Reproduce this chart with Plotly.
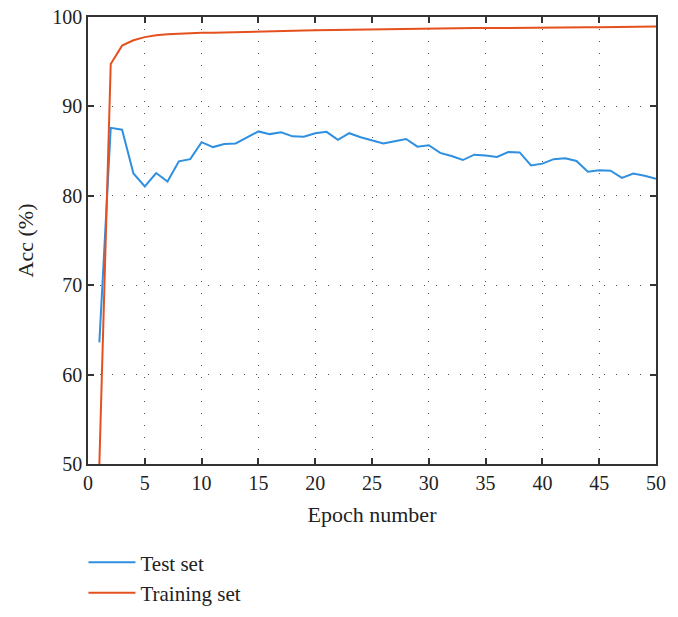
import plotly.graph_objects as go

epochs = list(range(1, 51))
test_acc = [63.6, 87.6, 87.4, 82.5, 81.05, 82.55, 81.6, 83.85, 84.1, 86.0,
            85.45, 85.8, 85.85, 86.55, 87.2, 86.9, 87.1, 86.65, 86.6, 87.0,
            87.15, 86.25, 87.0, 86.55, 86.2, 85.85, 86.1, 86.35, 85.5, 85.65,
            84.8, 84.45, 84.0, 84.6, 84.5, 84.35, 84.9, 84.85, 83.4, 83.6,
            84.1, 84.2, 83.9, 82.7, 82.85, 82.8, 82.0, 82.5, 82.25, 81.9]
train_acc = [50.0, 94.75, 96.8, 97.4, 97.75, 97.96, 98.08, 98.15, 98.2, 98.23,
             98.25, 98.27, 98.29, 98.31, 98.34, 98.38, 98.42, 98.46, 98.49, 98.52,
             98.54, 98.56, 98.6, 98.63, 98.67, 98.69, 98.7, 98.72, 98.74, 98.75,
             98.75, 98.76, 98.77, 98.77, 98.76, 98.78, 98.8, 98.81, 98.82, 98.82,
             98.82, 98.83, 98.85, 98.86, 98.86, 98.88, 98.9, 98.92, 98.92, 98.94]

x_ticks = list(range(0, 51, 5))
y_ticks = list(range(50, 101, 10))

blue = "#2f8fe0"
orange = "#e4511f"
font_family = "Liberation Serif"
text_color = "#222222"

fig = go.Figure()
fig.add_trace(go.Scatter(x=epochs, y=test_acc, mode="lines", name="Test set",
                         line=dict(color=blue, width=2)))
fig.add_trace(go.Scatter(x=epochs, y=train_acc, mode="lines", name="Training set",
                         line=dict(color=orange, width=2)))

axis_common = dict(
    showline=True, linecolor="#333333", linewidth=1.5, mirror="ticks",
    ticks="inside", ticklen=6, tickwidth=1.5, tickcolor="#333333",
    showgrid=True, gridcolor="#555555", gridwidth=1, griddash="1px,11px",
    zeroline=False, ticklabeloverflow="allow",
    tickfont=dict(family=font_family, size=20, color=text_color),
)

fig.update_xaxes(range=[0, 50], tickvals=x_ticks,
                 title=dict(text="Epoch number", font=dict(family=font_family, size=22, color=text_color), standoff=14),
                 **axis_common)
fig.update_yaxes(range=[50, 100], tickvals=y_ticks,
                 title=dict(text="Acc (%)", font=dict(family=font_family, size=22, color=text_color), standoff=13),
                 **axis_common)

fig.update_layout(
    width=678, height=617,
    margin=dict(l=88, r=22, t=17, b=153, autoexpand=False),
    plot_bgcolor="white", paper_bgcolor="white",
    font=dict(family=font_family, size=20, color=text_color),
    legend=dict(x=-0.008, y=-0.175, xanchor="left", yanchor="top",
                itemwidth=47,
                font=dict(family=font_family, size=21, color=text_color),
                bgcolor="rgba(0,0,0,0)", tracegroupgap=0),
    showlegend=True,
)

fig.write_html("out.html", config={"displayModeBar": False},
               post_script="document.body.style.margin='0';")
